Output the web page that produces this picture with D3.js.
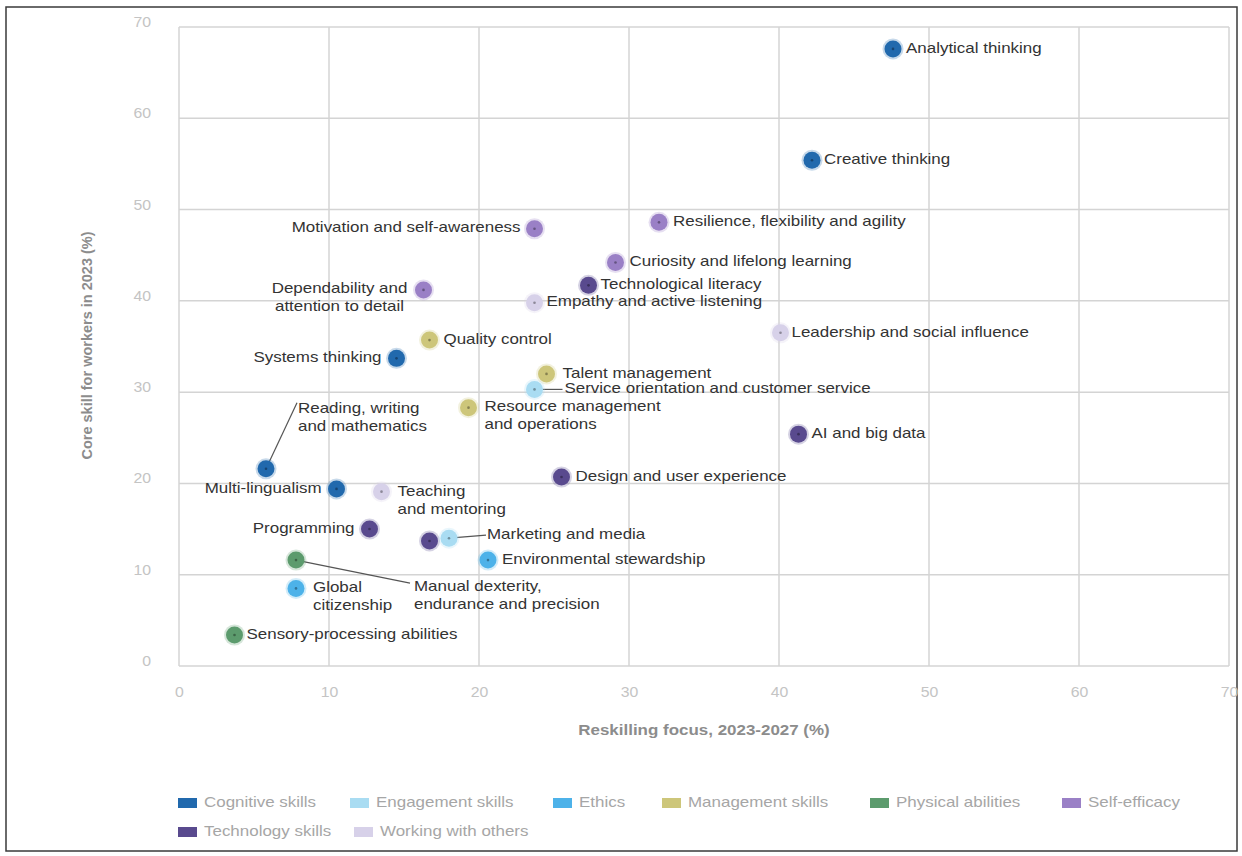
<!DOCTYPE html>
<html>
<head>
<meta charset="utf-8">
<script src="https://cdn.jsdelivr.net/npm/d3@7"></script>
<style>
  html, body { margin: 0; padding: 0; background: #fff; }
  svg { display: block; font-family: "Liberation Sans", Arial, sans-serif; }
</style>
</head>
<body>
<svg id="chart" width="1242" height="856"></svg>
<script>
/* ---------- data ---------- */
const groups = [
  "Cognitive skills", "Engagement skills", "Ethics", "Management skills",
  "Physical abilities", "Self-efficacy", "Technology skills", "Working with others"
];
const groupColors = [
  "#2169ad", "#a9dcf2", "#4db2e9", "#cdc67a",
  "#5c9b6d", "#9a80c6", "#594a8e", "#d7d1e9"
];

const skills = [
  "Analytical thinking", "Creative thinking", "Resilience, flexibility and agility",
  "Motivation and self-awareness", "Curiosity and lifelong learning", "Technological literacy",
  "Dependability and attention to detail", "Empathy and active listening",
  "Leadership and social influence", "Quality control", "Systems thinking",
  "Talent management", "Service orientation and customer service",
  "Resource management and operations", "AI and big data",
  "Reading, writing and mathematics", "Design and user experience", "Multi-lingualism",
  "Teaching and mentoring", "Programming", "Networks and cybersecurity",
  "Marketing and media", "Environmental stewardship",
  "Manual dexterity, endurance and precision", "Global citizenship",
  "Sensory-processing abilities"
];
const skillGroup = [
  0, 0, 5,
  5, 5, 6,
  5, 7,
  7, 3, 0,
  3, 1,
  3, 6,
  0, 6, 0,
  7, 6, 6,
  1, 2,
  4, 2,
  4
];
const reskilling = [   // x, %
  47.6, 42.2, 32.0,
  23.7, 29.1, 27.3,
  16.3, 23.7,
  40.1, 16.7, 14.5,
  24.5, 23.7,
  19.3, 41.3,
  5.8, 25.5, 10.5,
  13.5, 12.7, 16.7,
  18.0, 20.6,
  7.8, 7.8,
  3.7
];
const coreSkill = [    // y, %
  67.6, 55.4, 48.6,
  47.9, 44.2, 41.7,
  41.2, 39.8,
  36.5, 35.7, 33.7,
  32.0, 30.3,
  28.3, 25.4,
  21.6, 20.7, 19.4,
  19.1, 15.0, 13.7,
  14.0, 11.6,
  11.6, 8.5,
  3.4
];
const xTicks = [0, 10, 20, 30, 40, 50, 60, 70];
const yTicks = [0, 10, 20, 30, 40, 50, 60, 70];

/* ---------- label layout (pixel offsets from the point) ---------- */
// the source picture is a bit wider than tall, so text gets stretched sideways
const SX = 1.13;
const labelLayout = {
  "Analytical thinking": { lines: ["Analytical thinking"], anchor: "start", dx: 13, dy: 0 },
  "Creative thinking": { lines: ["Creative thinking"], anchor: "start", dx: 12, dy: 0 },
  "Resilience, flexibility and agility": { lines: ["Resilience, flexibility and agility"], anchor: "start", dx: 14, dy: 0 },
  "Motivation and self-awareness": { lines: ["Motivation and self-awareness"], anchor: "end", dx: -14, dy: 0 },
  "Curiosity and lifelong learning": { lines: ["Curiosity and lifelong learning"], anchor: "start", dx: 14, dy: 0 },
  "Technological literacy": { lines: ["Technological literacy"], anchor: "start", dx: 12, dy: 0 },
  "Dependability and attention to detail": { lines: ["Dependability and", "attention to detail"], anchor: "middle", dx: -84, dy: -1 },
  "Empathy and active listening": { lines: ["Empathy and active listening"], anchor: "start", dx: 12, dy: 0 },
  "Leadership and social influence": { lines: ["Leadership and social influence"], anchor: "start", dx: 11, dy: 0 },
  "Quality control": { lines: ["Quality control"], anchor: "start", dx: 14, dy: 0 },
  "Systems thinking": { lines: ["Systems thinking"], anchor: "end", dx: -15, dy: 0 },
  "Talent management": { lines: ["Talent management"], anchor: "start", dx: 16, dy: 0 },
  "Service orientation and customer service": { lines: ["Service orientation and customer service"], anchor: "start", dx: 30, dy: 0, leader: [28, 0] },
  "Resource management and operations": { lines: ["Resource management", "and operations"], anchor: "start", dx: 16, dy: 0 },
  "AI and big data": { lines: ["AI and big data"], anchor: "start", dx: 13, dy: 0 },
  "Reading, writing and mathematics": { lines: ["Reading, writing", "and mathematics"], anchor: "start", dx: 32, dy: -60, leader: [31, -66] },
  "Design and user experience": { lines: ["Design and user experience"], anchor: "start", dx: 14, dy: 0 },
  "Multi-lingualism": { lines: ["Multi-lingualism"], anchor: "end", dx: -15, dy: 0 },
  "Teaching and mentoring": { lines: ["Teaching", "and mentoring"], anchor: "start", dx: 16, dy: 1 },
  "Programming": { lines: ["Programming"], anchor: "end", dx: -15, dy: 0 },
  "Marketing and media": { lines: ["Marketing and media"], anchor: "start", dx: 38, dy: -3, leader: [37, -3] },
  "Environmental stewardship": { lines: ["Environmental stewardship"], anchor: "start", dx: 14, dy: 0 },
  "Manual dexterity, endurance and precision": { lines: ["Manual dexterity,", "endurance and precision"], anchor: "start", dx: 118, dy: 27, leader: [114, 23] },
  "Global citizenship": { lines: ["Global", "citizenship"], anchor: "start", dx: 17, dy: 0 },
  "Sensory-processing abilities": { lines: ["Sensory-processing abilities"], anchor: "start", dx: 12, dy: 0 }
};

/* ---------- layout ---------- */
const svg = d3.select("#chart");
const plot = { left: 179, right: 1229, top: 27, bottom: 666 };

svg.append("rect")
  .attr("x", 6).attr("y", 7)
  .attr("width", 1231).attr("height", 844)
  .attr("fill", "#fff")
  .attr("stroke", "#3a3a3a")
  .attr("stroke-width", 1.5);

const x = d3.scaleLinear().domain([0, 70]).range([plot.left, plot.right]);
const y = d3.scaleLinear().domain([0, 70]).range([plot.bottom, plot.top]);

// grid
const grid = svg.append("g");
grid.selectAll(".vg").data(xTicks).enter().append("line")
  .attr("x1", d => x(d)).attr("x2", d => x(d))
  .attr("y1", plot.top).attr("y2", plot.bottom)
  .attr("stroke", "#d4d4d4").attr("stroke-width", 1.5);
grid.selectAll(".hg").data(yTicks).enter().append("line")
  .attr("x1", plot.left).attr("x2", plot.right)
  .attr("y1", d => y(d)).attr("y2", d => y(d))
  .attr("stroke", "#d4d4d4").attr("stroke-width", 1.5);

// axes (ticks hidden, labels only)
const xAxis = svg.append("g")
  .attr("transform", `translate(0,${plot.bottom + 21})`)
  .call(d3.axisBottom(x).tickValues(xTicks).tickSize(0).tickPadding(0));
const yAxis = svg.append("g")
  .attr("transform", `translate(${plot.left - 28},-5)`)
  .call(d3.axisLeft(y).tickValues(yTicks).tickSize(0).tickPadding(0));
[xAxis, yAxis].forEach(a => {
  a.select(".domain").remove();
  a.selectAll("text")
    .attr("fill", "#c4c4c4")
    .attr("transform", `scale(${SX},1)`)
    .style("font-size", "14px")
    .style("font-family", "'Liberation Sans', Arial, sans-serif");
});

// axis titles
svg.append("text")
  .attr("transform", `translate(${(plot.left + plot.right) / 2},735) scale(${SX},1)`)
  .attr("text-anchor", "middle")
  .attr("fill", "#8c8c8c").style("font-size", "15px").style("font-weight", "bold")
  .text("Reskilling focus, 2023-2027 (%)");
svg.append("text")
  .attr("transform", `translate(92,${(plot.top + plot.bottom) / 2 - 1}) rotate(-90)`)
  .attr("text-anchor", "middle")
  .attr("fill", "#8c8c8c").style("font-size", "14.5px").style("font-weight", "bold")
  .text("Core skill for workers in 2023 (%)");

/* ---------- points ---------- */
const pts = skills.map((name, i) => ({
  name, g: skillGroup[i], x: reskilling[i], y: coreSkill[i]
}));

// leader lines first, under the markers
const leaders = svg.append("g");
pts.forEach(p => {
  const lay = labelLayout[p.name];
  if (!lay || !lay.leader) return;
  leaders.append("line")
    .attr("x1", x(p.x)).attr("y1", y(p.y))
    .attr("x2", x(p.x) + lay.leader[0]).attr("y2", y(p.y) + lay.leader[1])
    .attr("stroke", "#555").attr("stroke-width", 1.2);
});

const marks = svg.append("g").selectAll("g").data(pts).enter().append("g")
  .attr("transform", d => `translate(${x(d.x)},${y(d.y)})`);
marks.append("circle")
  .attr("r", 10.5)
  .attr("fill", d => groupColors[d.g]).attr("opacity", 0.25);
marks.append("circle")
  .attr("r", 8.5)
  .attr("fill", d => groupColors[d.g]);
marks.append("circle")
  .attr("r", 1.3)
  .attr("fill", d => d3.color(groupColors[d.g]).darker(1.2));

// labels
const labels = svg.append("g")
  .style("font-size", "15px").attr("fill", "#333");
pts.forEach(p => {
  const lay = labelLayout[p.name];
  if (!lay) return;
  const t = labels.append("g")
    .attr("transform", `translate(${x(p.x) + lay.dx},${y(p.y) + lay.dy}) scale(${SX},1)`)
    .append("text")
    .attr("text-anchor", lay.anchor)
    .attr("dominant-baseline", "middle");
  lay.lines.forEach((ln, k) => {
    t.append("tspan")
      .attr("x", 0)
      .attr("dy", k === 0 ? 0 : 18)
      .text(ln);
  });
});

/* ---------- legend ---------- */
const legendPos = [
  [178, 803], [350, 803], [553, 803], [662, 803], [870, 803], [1062, 803],
  [178, 832], [354, 832]
];
const legend = svg.append("g");
groups.forEach((g, i) => {
  const [lx, ly] = legendPos[i];
  legend.append("rect")
    .attr("x", lx).attr("y", ly - 5)
    .attr("width", 19).attr("height", 10)
    .attr("fill", groupColors[i]);
  legend.append("text")
    .attr("transform", `translate(${lx + 26},${ly}) scale(${SX},1)`)
    .attr("dominant-baseline", "middle")
    .attr("fill", "#a6a6a6").style("font-size", "15px")
    .text(g);
});
</script>
</body>
</html>
